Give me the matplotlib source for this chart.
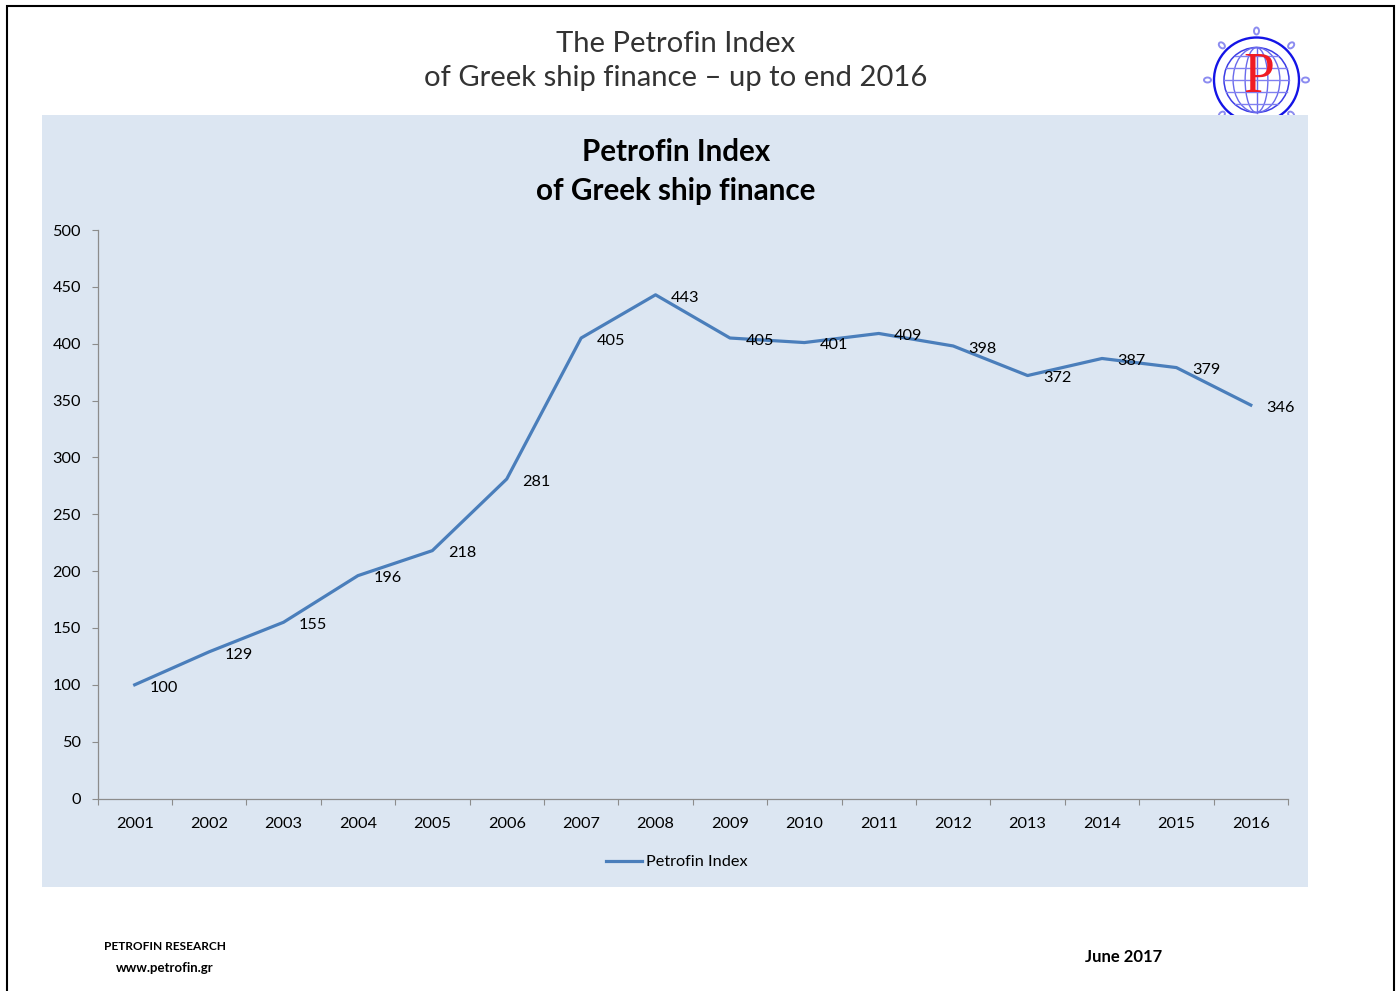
import numpy as np
import matplotlib
matplotlib.use('Agg')
from matplotlib import pyplot as plt
from matplotlib.patches import Circle, Ellipse, Rectangle

years = ['2001', '2002', '2003', '2004', '2005', '2006', '2007', '2008',
         '2009', '2010', '2011', '2012', '2013', '2014', '2015', '2016']
index_values = [100, 129, 155, 196, 218, 281, 405, 443,
                405, 401, 409, 398, 372, 387, 379, 346]
y_ticks = [0, 50, 100, 150, 200, 250, 300, 350, 400, 450, 500]

W, H = 1400, 991
LINE = '#4a7ebb'
AXIS = '#8c8c8c'
PANEL = '#dce6f2'
TEXT = '#000000'

plt.rcParams['font.family'] = ['Lato', 'DejaVu Sans']

fig = plt.figure(figsize=(W / 100, H / 100), dpi=100, facecolor='white')

# page layer in pixel coordinates
bg = fig.add_axes([0, 0, 1, 1])
bg.set_xlim(0, W)
bg.set_ylim(H, 0)
bg.axis('off')

# page border, open at the bottom
bg.plot([7, 7, 1394, 1394], [H, 5.5, 5.5, H], color='black', lw=1.5,
        solid_joinstyle='miter')

# logo: ring, knobs, globe
cx, cy = 1256.5, 80
bg.add_patch(Circle((cx, cy), 42.5, fill=False, ec='#1414e6', lw=1.7))
for a in np.arange(0, 360, 45):
    kx = cx + 49 * np.cos(np.radians(a))
    ky = cy + 49 * np.sin(np.radians(a))
    bg.add_patch(Ellipse((kx, ky), 7, 5, angle=a, fill=False,
                         ec='#8c8cf0', lw=1.4))
bg.add_patch(Circle((cx, cy), 32.5, fill=False, ec='#3c3ce6', lw=1.1))
for w in [0.35, 0.72]:
    bg.add_patch(Ellipse((cx, cy), 65 * w, 65, fill=False, ec='#6a6aec', lw=1.0))
bg.plot([cx, cx], [cy - 32.5, cy + 32.5], color='#6a6aec', lw=1.0)
for dy in [-24, -12, 0, 12, 24]:
    half = np.sqrt(32.5 ** 2 - dy ** 2)
    bg.plot([cx - half, cx + half], [cy + dy, cy + dy], color='#8080f0', lw=1.0)
bg.text(cx + 2, cy - 1.5, 'P', color='#f01c24', fontsize=40, ha='center', va='center',
        family=['Liberation Serif'])

# chart panel covers the bottom of the logo
bg.add_patch(Rectangle((42, 115), 1266, 772, fc=PANEL, ec='none', zorder=5))

bg.text(676, 44, 'The Petrofin Index', fontsize=21.1,
        color='#333333', ha='center', va='center')
bg.text(676, 78, 'of Greek ship finance – up to end 2016', fontsize=21.1,
        color='#333333', ha='center', va='center')

bg.text(676, 152, 'Petrofin Index', fontsize=21.3, fontweight='bold', color=TEXT,
        ha='center', va='center', zorder=6)
bg.text(675.5, 191, 'of Greek ship finance', fontsize=21.3, fontweight='bold', color=TEXT,
        ha='center', va='center', zorder=6)

bg.text(165.5, 946.5, 'PETROFIN RESEARCH', fontsize=8.6, fontweight='bold', color=TEXT,
        ha='center', va='center')
bg.text(164.5, 967.5, 'www.petrofin.gr', fontsize=9.5, fontweight='bold', color=TEXT,
        ha='center', va='center')
bg.text(1124, 957, 'June 2017', fontsize=12, fontweight='bold', color=TEXT,
        ha='center', va='center')

# line chart
ax = fig.add_axes([97.5 / W, (H - 798.5) / H, (1288 - 97.5) / W, (798.5 - 230) / H])
ax.patch.set_alpha(0)
x = np.arange(len(years)) + 0.5
line, = ax.plot(x, index_values, color=LINE, lw=2.3, label='Petrofin Index',
                solid_joinstyle='round')
for xi, v in zip(x, index_values):
    ax.annotate(str(v), (xi, v), xytext=(21.3, -2), textcoords='offset points',
                ha='center', va='center', fontsize=11.7, color=TEXT)

ax.set_xlim(0, len(years))
ax.set_ylim(0, 500)
ax.set_yticks(y_ticks)
ax.set_xticks(np.arange(len(years) + 1))
ax.set_xticklabels([])
ax.set_xticks(x, minor=True)
ax.set_xticklabels(years, minor=True)
ax.tick_params(axis='x', which='major', direction='out', length=4, width=0.8, color=AXIS)
ax.tick_params(axis='x', which='minor', length=0, pad=13, labelsize=11.7, labelcolor=TEXT)
ax.tick_params(axis='y', direction='out', length=4, width=0.8, color=AXIS, pad=8,
               labelsize=11.7, labelcolor=TEXT)
for s in ['top', 'right']:
    ax.spines[s].set_visible(False)
for s in ['left', 'bottom']:
    ax.spines[s].set_color(AXIS)
    ax.spines[s].set_linewidth(0.9)

ax.legend(handles=[line], loc='center',
          bbox_to_anchor=((677 - 97.5) / (1288 - 97.5), (798.5 - 862) / (798.5 - 230)),
          frameon=False, fontsize=11.7, handlelength=2.2, handletextpad=0.3,
          labelcolor=TEXT)

fig.savefig('out.png', dpi=100, facecolor='white')
